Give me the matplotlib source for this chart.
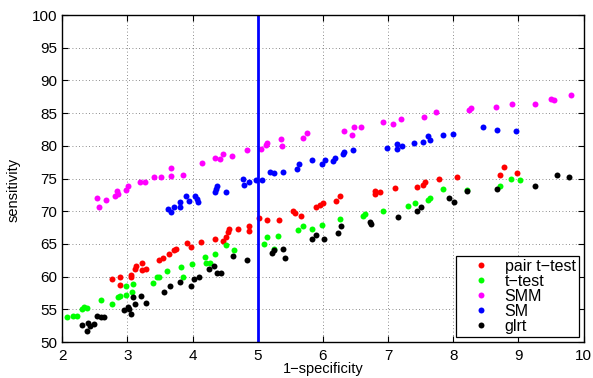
import matplotlib
matplotlib.use("Agg")
import matplotlib.pyplot as plt

plt.rcParams['font.family'] = ['Liberation Sans', 'DejaVu Sans']

# pair t-test
pair_x = [2.77, 2.88, 2.88, 3.05, 3.05, 3.11, 3.14, 3.23, 3.22, 3.29, 3.48, 3.54, 3.64, 3.72, 3.74,
          3.91, 3.98, 4.13, 4.34, 4.47, 4.51, 4.55, 4.56, 4.70, 4.87, 4.87, 5.02, 5.14, 5.33, 5.54,
          5.57, 5.66, 5.90, 5.95, 6.00, 6.20, 6.26, 6.80, 6.80, 6.88, 7.11, 7.44, 7.54, 7.56, 7.78,
          8.06, 8.72, 8.78, 8.98]
pair_y = [59.7, 60.0, 58.7, 60.3, 60.0, 61.2, 61.7, 62.1, 61.0, 61.2, 62.5, 62.9, 63.5, 64.0, 64.2,
          65.2, 64.6, 65.3, 65.7, 65.5, 66.0, 66.8, 67.3, 67.3, 67.7, 66.9, 69.0, 68.7, 68.6, 70.0,
          69.8, 69.3, 70.6, 71.0, 71.2, 71.6, 72.3, 73.1, 72.7, 72.9, 73.5, 73.7, 74.0, 74.4, 75.0,
          75.2, 75.5, 76.8, 75.9]

# t-test
t_x = [2.08, 2.17, 2.22, 2.30, 2.34, 2.38, 2.59, 2.77, 2.85, 2.88, 2.98, 2.98, 3.07, 3.09, 3.40,
       3.46, 3.49, 3.61, 3.82, 3.85, 3.99, 4.19, 4.21, 4.27, 4.35, 4.51, 4.64, 5.09, 5.15, 5.25,
       5.31, 5.62, 5.69, 5.84, 5.99, 6.27, 6.61, 6.65, 6.93, 7.31, 7.42, 7.61, 7.64, 7.84, 8.21,
       8.72, 8.88, 9.02]
t_y = [53.8, 54.0, 54.0, 55.1, 55.3, 55.2, 56.4, 55.8, 56.9, 57.0, 57.2, 58.5, 57.6, 58.9, 59.1,
       60.0, 60.0, 60.9, 61.4, 60.0, 61.9, 63.0, 62.1, 62.1, 63.4, 64.9, 64.1, 65.0, 66.0, 64.3,
       66.2, 67.1, 67.7, 67.3, 67.9, 68.8, 69.2, 69.6, 70.0, 70.8, 71.2, 71.7, 72.0, 73.4, 73.3,
       73.9, 74.9, 74.8]

# SMM
smm_x = [2.53, 2.57, 2.67, 2.81, 2.84, 2.86, 2.98, 3.01, 3.20, 3.27, 3.41, 3.51, 3.67, 3.67, 3.85,
         4.15, 4.34, 4.42, 4.47, 4.60, 4.84, 5.05, 5.12, 5.15, 5.36, 5.37, 5.69, 5.75, 6.33, 6.45,
         6.48, 6.59, 6.93, 7.07, 7.20, 7.55, 7.73, 8.24, 8.27, 8.66, 8.91, 9.26, 9.50, 9.55, 9.81]
smm_y = [72.0, 70.7, 71.7, 72.3, 73.1, 72.6, 73.3, 73.8, 74.5, 74.4, 75.3, 75.3, 75.4, 76.6, 75.6,
         77.3, 78.1, 78.0, 78.7, 78.4, 79.3, 79.5, 80.1, 80.5, 81.0, 80.0, 81.2, 82.0, 82.3, 81.7,
         82.9, 82.9, 83.7, 83.3, 84.1, 84.4, 85.1, 85.5, 85.8, 85.9, 86.4, 86.4, 87.2, 87.0, 87.8]

# SM
sm_x = [3.62, 3.67, 3.72, 3.81, 3.81, 3.90, 3.95, 4.04, 4.07, 4.09, 4.35, 4.36, 4.38, 4.51, 4.78,
        4.79, 4.87, 4.97, 5.06, 5.19, 5.25, 5.39, 5.61, 5.64, 5.84, 5.98, 6.04, 6.15, 6.18, 6.31,
        6.33, 6.46, 6.99, 7.14, 7.14, 7.21, 7.40, 7.54, 7.61, 7.65, 7.85, 8.00, 8.46, 8.67, 8.97]
sm_y = [70.3, 69.9, 70.6, 70.7, 71.4, 72.3, 71.6, 72.3, 71.9, 71.4, 73.0, 73.4, 73.9, 72.9, 75.0,
        74.0, 74.4, 74.7, 74.8, 76.0, 75.8, 76.0, 76.4, 77.2, 77.8, 77.2, 77.8, 77.7, 78.2, 78.7,
        79.1, 79.4, 79.7, 80.3, 79.5, 79.9, 80.5, 80.6, 81.5, 80.9, 81.6, 81.8, 82.9, 82.4, 82.3]

# glrt
g_x = [2.30, 2.38, 2.40, 2.43, 2.49, 2.54, 2.59, 2.64, 2.95, 3.01, 3.02, 3.06, 3.08, 3.11, 3.21,
       3.28, 3.56, 3.66, 3.81, 3.98, 4.02, 4.10, 4.25, 4.33, 4.38, 4.44, 4.62, 4.83, 5.22, 5.25,
       5.39, 5.42, 5.83, 5.89, 6.02, 6.24, 6.28, 6.73, 6.74, 7.16, 7.45, 7.51, 7.94, 8.02, 8.21,
       8.67, 9.26, 9.60, 9.77]
g_y = [52.6, 51.7, 52.9, 52.4, 52.7, 54.0, 53.9, 53.8, 54.9, 55.4, 55.1, 54.3, 56.9, 55.8, 57.1,
       56.0, 57.6, 58.5, 59.2, 58.5, 59.6, 60.0, 61.1, 61.6, 60.5, 60.6, 63.2, 62.6, 63.6, 64.1,
       64.3, 62.8, 65.8, 66.4, 65.8, 66.7, 67.8, 68.4, 68.0, 69.1, 70.1, 70.6, 72.0, 71.4, 73.1,
       73.4, 73.9, 75.6, 75.3]

threshold_x = 5

series = [
    (pair_x, pair_y, (1, 0, 0), 'pair t\u2212test'),
    (t_x, t_y, (0, 1, 0), 't\u2212test'),
    (smm_x, smm_y, (1, 0, 1), 'SMM'),
    (sm_x, sm_y, (0, 0, 1), 'SM'),
    (g_x, g_y, (0, 0, 0), 'glrt'),
]

fig = plt.figure(figsize=(5.93, 3.78), dpi=100)
ax = fig.add_axes([0.1049, 0.0952, 0.8791, 0.865])

for xs, ys, c, lab in series:
    ax.plot(xs, ys, linestyle='none', marker='o', markersize=4.3,
            markerfacecolor=c, markeredgecolor=c, markeredgewidth=0, label=lab)

ax.axvline(threshold_x, color=(0, 0, 1), linewidth=2)

ax.set_xlim(2, 10)
ax.set_ylim(50, 100)
ax.set_xticks(range(2, 11))
ax.set_yticks(range(50, 101, 5))
ax.grid(True, color='black', linestyle=(0, (1, 3)), linewidth=0.6, alpha=0.6)
ax.tick_params(direction='in', top=True, right=True, labelsize=11, length=4, width=0.8)
ax.tick_params(axis='x', pad=5)
for s in ax.spines.values():
    s.set_linewidth(1.0)
ax.set_xlabel('1\u2212specificity', fontsize=10.5, labelpad=-1)
ax.set_ylabel('sensitivity', fontsize=10.5)
ax.yaxis.set_label_coords(-0.08, 0.465)

leg = ax.legend(loc='lower right', fontsize=11.5, frameon=True, fancybox=False,
                edgecolor='black', framealpha=1, borderpad=0.2, labelspacing=0.0,
                handlelength=2.8, handletextpad=0.05, borderaxespad=0.3, markerscale=1.0)
leg.get_frame().set_linewidth(0.9)

fig.savefig('out.png', dpi=100)
